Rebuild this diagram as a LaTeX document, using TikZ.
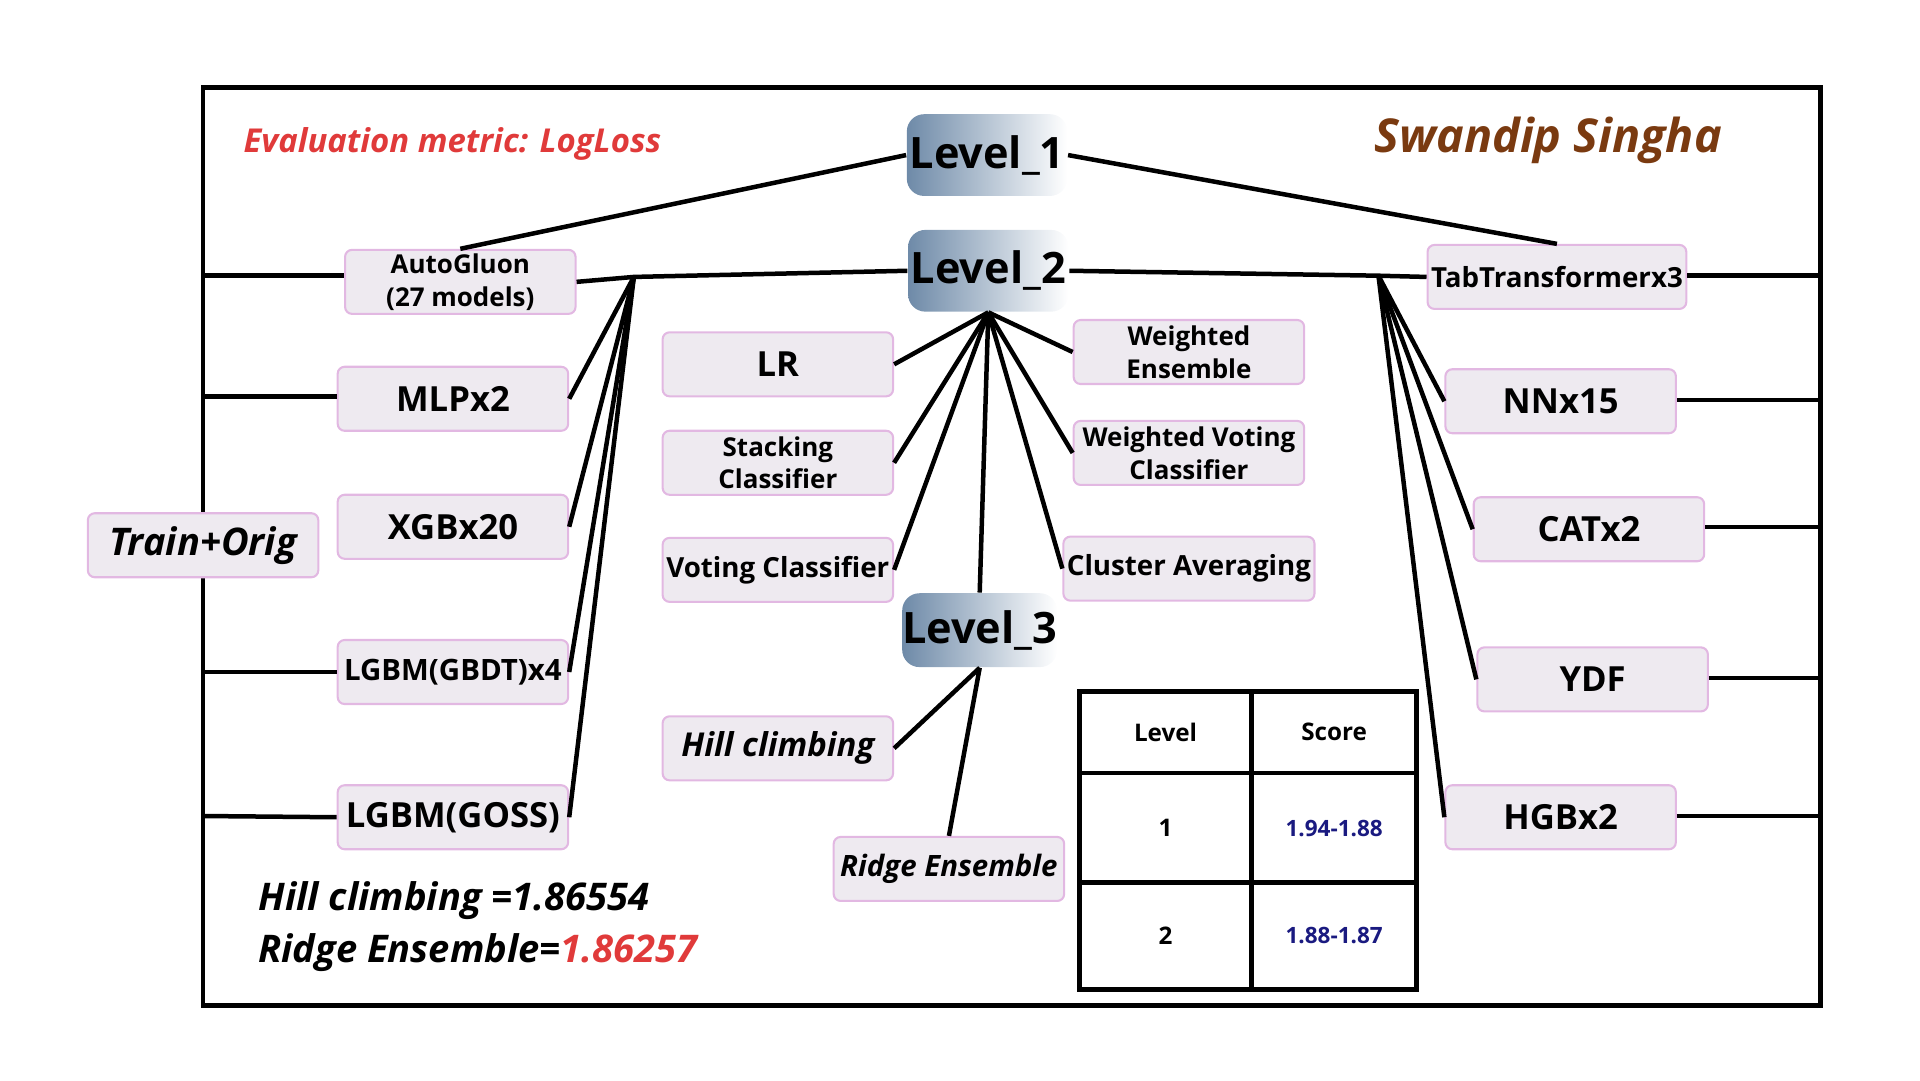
\documentclass[tikz,border=0pt]{standalone}
\usepackage{fontspec}
\setmainfont{Open Sans}
\begin{document}
\begin{tikzpicture}[x=0.0125cm,y=-0.0125cm,
 box/.style={draw=boxb,fill=boxf,rounded corners=2pt,line width=0.6pt,minimum width=2.34cm,minimum height=0.65cm,inner sep=1pt,align=center,font=\bfseries\fontsize{10}{11}\selectfont},
 sm/.style={font=\bfseries\fontsize{7.5}{9.5}\selectfont},
 lvl/.style={rounded corners=5pt,left color=lvA,middle color=lvB,right color=white,minimum width=1.63cm,minimum height=0.83cm,inner sep=0pt,font=\bfseries\fontsize{12.5}{14}\selectfont},
 ln/.style={line width=1.3pt}]
\definecolor{boxb}{HTML}{E2B8E2}
\definecolor{boxf}{HTML}{EEEAF0}
\definecolor{lvA}{HTML}{6E8AA8}
\definecolor{lvB}{HTML}{E6C6DA}
\definecolor{redt}{HTML}{E03A3A}
\definecolor{brownt}{HTML}{7A3A10}
\definecolor{navy}{HTML}{1A1A80}
\useasboundingbox (0,0) rectangle (1560,877.5);
\draw[ln] (165,71) rectangle (1479,817);
% level nodes
\node[lvl] (L1) at (802,126) {Level\_1};
\node[lvl] (L2) at (803,220) {Level\_2};
\node[lvl,minimum width=1.55cm,minimum height=0.75cm] (L3) at (796,512) {Level\_3};
% left boxes
\node[box,sm] (ag) at (374,229) {AutoGluon\\(27 models)};
\node[box] (mlp) at (368,324) {MLPx2};
\node[box] (xgb) at (368,428) {XGBx20};
\node[box,font=\bfseries\fontsize{8.5}{10}\selectfont] (gbdt) at (368,546) {LGBM(GBDT)x4};
\node[box] (goss) at (368,664) {LGBM(GOSS)};
% middle
\node[box] (lr) at (632,296) {LR};
\node[box,sm] (st) at (632,376) {Stacking\\Classifier};
\node[box,font=\bfseries\fontsize{8}{10}\selectfont] (vc) at (632,463) {Voting Classifier};
\node[box,sm] (we) at (966,286) {Weighted\\Ensemble};
\node[box,sm] (wv) at (966,368) {Weighted Voting\\Classifier};
\node[box,font=\bfseries\fontsize{8}{10}\selectfont] (ca) at (966,462) {Cluster Averaging};
\node[box,font=\bfseries\itshape\fontsize{9.5}{11}\selectfont] (hc) at (632,608) {Hill climbing};
\node[box,font=\bfseries\itshape\fontsize{8.5}{10}\selectfont] (re) at (771,706) {Ridge Ensemble};
% right
\node[box,font=\bfseries\fontsize{8}{10}\selectfont,minimum width=2.56cm] (tt) at (1265,225) {TabTransformerx3};
\node[box] (nn) at (1268,326) {NNx15};
\node[box] (cat) at (1291,430) {CATx2};
\node[box] (ydf) at (1294,552) {YDF};
\node[box] (hgb) at (1268,664) {HGBx2};
% frame stubs (left)
\coordinate (fl1) at (165,224); \coordinate (fl2) at (165,322);
\coordinate (fl3) at (165,546); \coordinate (fl4) at (165,663);
\draw[ln] (fl1) -- (ag.west|-fl1); \draw[ln] (fl2) -- (mlp.west|-fl2);
\draw[ln] (fl3) -- (gbdt.west); \draw[ln] (fl4) -- (goss.west);
\coordinate (fr1) at (1479,224); \coordinate (fr2) at (1479,325);
\coordinate (fr3) at (1479,428); \coordinate (fr4) at (1479,551); \coordinate (fr5) at (1479,663);
\draw[ln] (tt.east|-fr1) -- (fr1); \draw[ln] (nn.east|-fr2) -- (fr2);
\draw[ln] (cat.east|-fr3) -- (fr3); \draw[ln] (ydf.east|-fr4) -- (fr4); \draw[ln] (hgb.east|-fr5) -- (fr5);
\node[box,font=\bfseries\itshape\fontsize{11}{12}\selectfont] (tr) at (165,443) {Train+Orig};
% level 1
\draw[ln] (L1.west) -- (ag.north);
\draw[ln] (L1.east) -- (tt.north);
% level 2
\coordinate (hl) at (515,225); \coordinate (hr) at (1120,224);
\draw[ln] (ag.east) -- (hl) -- (L2.west);
\draw[ln] (L2.east) -- (hr) -- (tt.west);
\foreach \n in {mlp,xgb,gbdt,goss} \draw[ln] (hl) -- (\n.east);
\foreach \n in {nn,cat,ydf,hgb} \draw[ln] (hr) -- (\n.west);
\foreach \n in {lr,st,vc} \draw[ln] (L2.south) -- (\n.east);
\foreach \n in {we,wv,ca} \draw[ln] (L2.south) -- (\n.west);
\draw[ln] (L2.south) -- (L3.north);
\draw[ln] (L3.south) -- (hc.east);
\draw[ln] (L3.south) -- (re.north);
% texts
\node[anchor=west,text=redt,font=\bfseries\itshape\fontsize{9.5}{11}\selectfont] (em) at (188,117) {Evaluation metric: LogLoss};
\node[text=brownt,font=\bfseries\itshape\fontsize{13.5}{15}\selectfont] (sw) at (1258,114) {Swandip Singha};
\node[anchor=west,font=\bfseries\itshape\fontsize{11}{13}\selectfont] (h1) at (200,732) {Hill climbing =1.86554};
\node[anchor=west,font=\bfseries\itshape\fontsize{11}{13}\selectfont] (h2) at (200,774) {Ridge Ensemble=\textcolor{redt}{1.86257}};
% table
\draw[ln] (877,562) rectangle (1151,804);
\draw[ln] (1017,562) -- (1017,804);
\draw[ln] (877,628) -- (1151,628);
\draw[ln] (877,717) -- (1151,717);
\node[font=\bfseries\fontsize{7}{8}\selectfont] (t1) at (947,595) {Level};
\node[font=\bfseries\fontsize{7}{8}\selectfont] (t2) at (1084,595) {Score};
\node[font=\bfseries\fontsize{7}{8}\selectfont] (t3) at (947,673) {1};
\node[font=\bfseries\fontsize{6.5}{8}\selectfont,text=navy] (t4) at (1084,673) {1.94-1.88};
\node[font=\bfseries\fontsize{7}{8}\selectfont] (t5) at (947,760) {2};
\node[font=\bfseries\fontsize{6.5}{8}\selectfont,text=navy] (t6) at (1084,760) {1.88-1.87};
\end{tikzpicture}
\end{document}
